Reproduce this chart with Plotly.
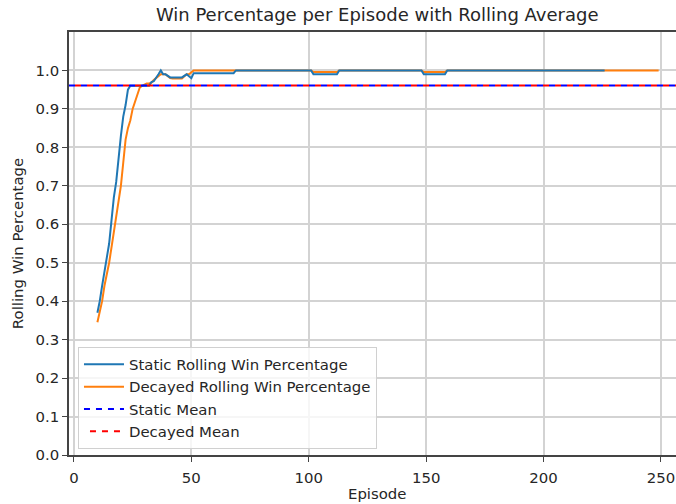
import plotly.graph_objects as go

# ---- data ----
static_ep = [10, 11, 12, 13, 14, 15, 16, 17, 18, 19, 20, 21, 22, 23, 24, 32, 33, 34, 35, 36, 37,
             38, 39, 40, 41, 46, 47, 48, 49, 50, 51, 68, 69, 101, 102, 112, 113, 148, 149, 158, 159, 226]
static_win = [0.37, 0.40, 0.44, 0.48, 0.51, 0.55, 0.61, 0.67, 0.71, 0.78, 0.83, 0.88, 0.91, 0.95, 0.96, 0.96,
              0.97, 0.972, 0.98, 0.99, 1.0, 0.99, 0.99, 0.985, 0.982, 0.982, 0.985, 0.99, 0.985, 0.98,
              0.993, 0.993, 1.0, 1.0, 0.99, 0.99, 1.0, 1.0, 0.99, 0.99, 1.0, 1.0]

decayed_ep = [10, 11, 12, 13, 14, 15, 16, 17, 18, 19, 20, 21, 22, 23, 24, 25, 26, 27, 28, 29, 30,
              31, 32, 33, 34, 35, 36, 37, 38, 39, 40, 41, 42, 46, 47, 48, 49, 50, 51,
              101, 102, 112, 113, 148, 149, 158, 159, 249]
decayed_win = [0.345, 0.37, 0.40, 0.44, 0.47, 0.50, 0.54, 0.58, 0.62, 0.66, 0.70, 0.76, 0.82, 0.85, 0.87,
               0.90, 0.92, 0.94, 0.955, 0.96, 0.963, 0.966, 0.966, 0.968, 0.975, 0.98, 0.985, 0.99,
               0.99, 0.99, 0.985, 0.98, 0.979, 0.979, 0.985, 0.99, 0.99, 0.995, 1.0,
               1.0, 0.996, 0.996, 1.0, 1.0, 0.996, 0.996, 1.0, 1.0]

static_mean = 0.961
decayed_mean = 0.961

x_ticks = [0, 50, 100, 150, 200, 250]
y_ticks = [0.0, 0.1, 0.2, 0.3, 0.4, 0.5, 0.6, 0.7, 0.8, 0.9, 1.0]
x_range = [-2.1, 256.4]
y_range = [0.0, 1.1]

FONT = "DejaVu Sans"
TXT = "#262626"
FS = 14.9

fig = go.Figure()

# decayed drawn first so the static line sits on top (legend order via legendrank)
fig.add_trace(go.Scatter(
    x=decayed_ep, y=decayed_win, mode="lines", name="Decayed Rolling Win Percentage",
    line=dict(color="#ff7f0e", width=2), legendrank=2, legendgroup="b"))
fig.add_trace(go.Scatter(
    x=static_ep, y=static_win, mode="lines", name="Static Rolling Win Percentage",
    line=dict(color="#1f77b4", width=2), legendrank=1, legendgroup="a"))
fig.add_trace(go.Scatter(
    x=x_range, y=[static_mean, static_mean], mode="lines", name="Static Mean",
    line=dict(color="blue", width=2, dash="6px,6px"), legendrank=3, legendgroup="c"))
fig.add_trace(go.Scatter(
    x=x_range, y=[decayed_mean, decayed_mean], mode="lines", name="Decayed Mean",
    line=dict(color="red", width=2, dash="0px,6px,6px,0px"), legendrank=4, legendgroup="d"))

fig.update_layout(
    width=676, height=504,
    margin=dict(l=69, r=0, t=31.5, b=48.5, autoexpand=False),
    paper_bgcolor="white", plot_bgcolor="white",
    font=dict(family=FONT, size=FS, color=TXT),
    title=dict(text="Win Percentage per Episode with Rolling Average",
               x=0.558, xanchor="center", y=1 - 15 / 504, yanchor="middle",
               font=dict(family=FONT, size=18, color=TXT)),
    showlegend=True,
    legend=dict(x=0.0148, y=0.014, xanchor="left", yanchor="bottom",
                bgcolor="rgba(255,255,255,0.8)", bordercolor="#d0d0d0", borderwidth=1,
                font=dict(family=FONT, size=FS, color=TXT), tracegroupgap=0,
                itemwidth=40),
    annotations=[dict(text="Episode", xref="paper", yref="paper",
                      x=(377 - 69) / 607, y=-(495 - 455.5) / 424,
                      xanchor="center", yanchor="middle", showarrow=False,
                      font=dict(family=FONT, size=FS, color=TXT))],
)

fig.update_xaxes(
    range=x_range, tickmode="array", tickvals=x_ticks,
    showgrid=True, gridcolor="#d3d3d3", gridwidth=1.5, zeroline=False,
    showline=True, linecolor="#444", linewidth=1.5, mirror=True,
    ticks="outside", ticklen=5, tickcolor="#444", tickwidth=1.2,
    ticklabelstandoff=3,
    automargin=False,
)
fig.update_yaxes(
    range=y_range, tickmode="array", tickvals=y_ticks, tickformat=".1f",
    showgrid=True, gridcolor="#d3d3d3", gridwidth=1.5, zeroline=False,
    showline=True, linecolor="#444", linewidth=1.5, mirror=False,
    ticks="outside", ticklen=5, tickcolor="#444", tickwidth=1.2,
    title=dict(text="Rolling Win Percentage", standoff=8, font=dict(family=FONT, size=FS, color=TXT)),
    automargin=False,
)

fig.write_html("out.html")
